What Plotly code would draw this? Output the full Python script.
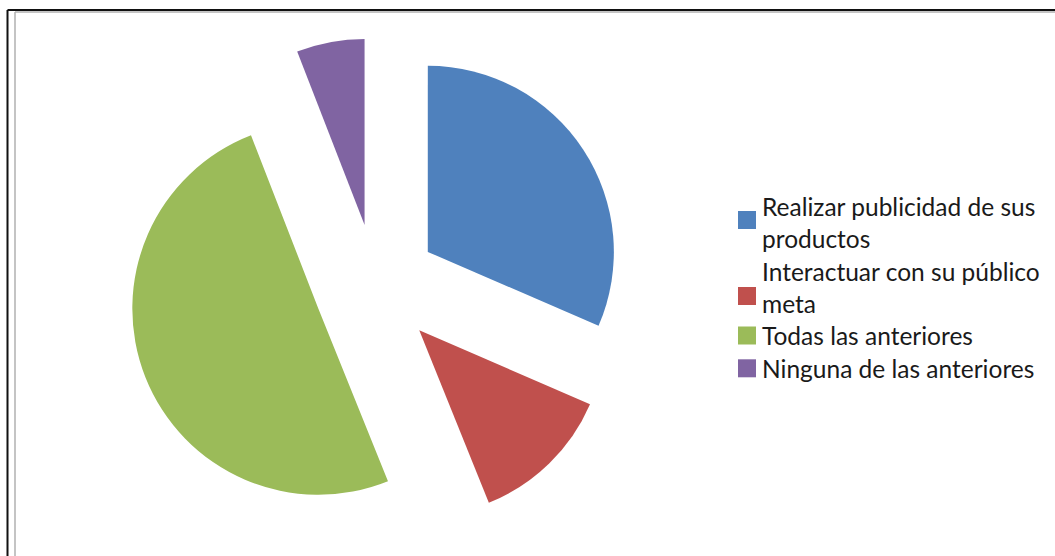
import plotly.graph_objects as go

W, H = 1055, 556

labels = [
    "Realizar publicidad de sus<br>productos",
    "Interactuar con su público<br>meta",
    "Todas las anteriores",
    "Ninguna de las anteriores",
]
values = [31.5, 12.4, 50.2, 5.9]
colors = ["#4F81BD", "#C0504D", "#9BBB59", "#8064A2"]
pulls = [0.333, 0.333, 0.333, 0.333]

fig = go.Figure(
    go.Pie(
        labels=labels,
        values=values,
        sort=False,
        direction="clockwise",
        rotation=0,
        pull=pulls,
        textinfo="none",
        hoverinfo="label+percent",
        marker=dict(colors=colors, line=dict(width=0)),
        domain=dict(x=[0.1213, 0.5915], y=[0.0396, 0.932]),
        showlegend=False,
    )
)


def px(x):
    return x / W


def py(y):
    return 1 - y / H


frame = [
    # outer dark frame (top and left edges)
    dict(x0=7.5, y0=10, x1=W + 5, y1=10, color="#111111", width=2),
    dict(x0=7.5, y0=10, x1=7.5, y1=H + 5, color="#111111", width=2),
    # inner grey frame
    dict(x0=15, y0=12, x1=W + 5, y1=12, color="#b0b0b0", width=1.5),
    dict(x0=15, y0=12, x1=15, y1=H + 5, color="#b0b0b0", width=1.5),
]
shapes = [
    dict(type="line", xref="paper", yref="paper", x0=px(f["x0"]), y0=py(f["y0"]),
         x1=px(f["x1"]), y1=py(f["y1"]), line=dict(color=f["color"], width=f["width"]))
    for f in frame
]

# Legend drawn at the right: colour swatch + label per slice
legend_text_top = [191, 256, 320, 352.5]   # top of each entry's text box (px)
legend_swatch_mid = [220, 296, 335.5, 368.3]  # vertical centre of each swatch (px)
SW = 18
SW_X = 738
TEXT_X = 761

annotations = []
for lab, col, ty, sy in zip(labels, colors, legend_text_top, legend_swatch_mid):
    shapes.append(dict(
        type="rect", xref="paper", yref="paper",
        x0=px(SW_X), x1=px(SW_X + SW), y0=py(sy - SW / 2), y1=py(sy + SW / 2),
        fillcolor=col, line=dict(width=0),
    ))
    annotations.append(dict(
        text=lab, xref="paper", yref="paper", x=px(TEXT_X), y=py(ty),
        xanchor="left", yanchor="top", align="left", showarrow=False,
        borderpad=0,
        font=dict(family="Lato", size=24.5, color="#1a1a1a"),
    ))

fig.update_layout(
    width=W,
    height=H,
    margin=dict(l=0, r=0, t=0, b=0),
    paper_bgcolor="white",
    plot_bgcolor="white",
    shapes=shapes,
    annotations=annotations,
    showlegend=False,
)

fig.write_html("out.html")
